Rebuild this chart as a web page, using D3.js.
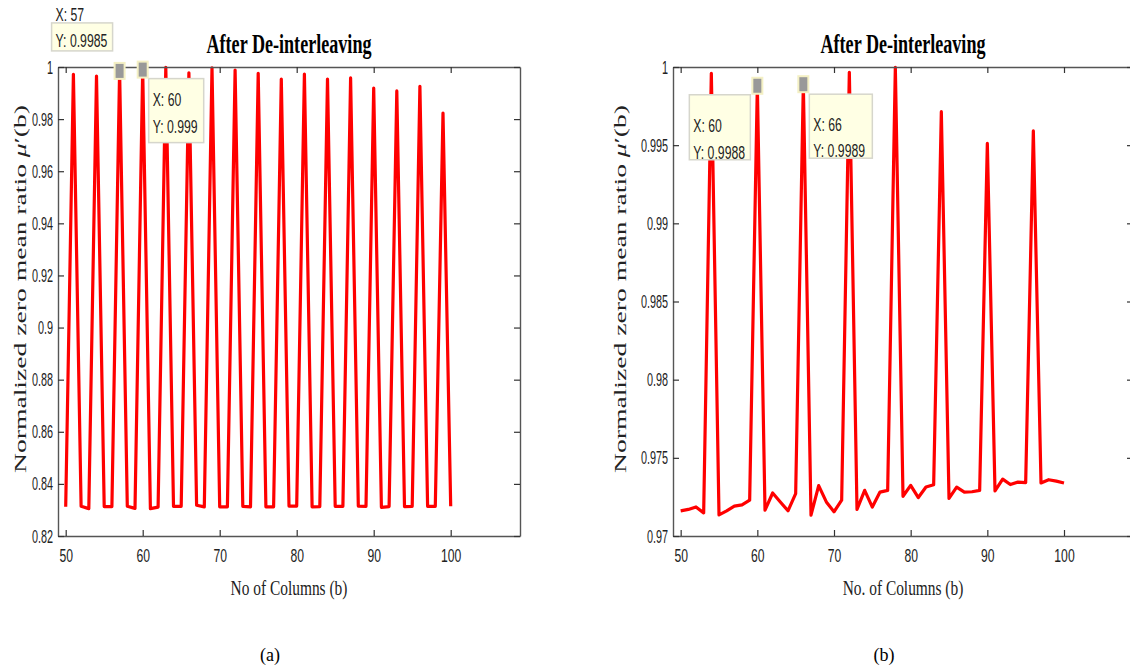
<!DOCTYPE html>
<html>
<head>
<meta charset="utf-8">
<script src="https://cdn.jsdelivr.net/npm/d3@7"></script>
<style>
  body { margin: 0; background: #fff; }
  svg { display: block; }
</style>
</head>
<body>
<svg id="fig" width="1130" height="667"></svg>
<script>
// ---- data ----
var colsA = [50,51,52,53,54,55,56,57,58,59,60,61,62,63,64,65,66,67,68,69,70,71,72,73,74,75,
             76,77,78,79,80,81,82,83,84,85,86,87,88,89,90,91,92,93,94,95,96,97,98,99,100];
var muA = [0.8312,0.9972,0.8314,0.8305,0.9965,0.8313,0.8313,0.9985,0.8314,0.8306,
           0.9990,0.8305,0.8311,0.9999,0.8314,0.8314,0.9978,0.8318,0.8312,0.9997,
           0.8312,0.8312,0.9988,0.8314,0.8312,0.9976,0.8312,0.8312,0.9954,0.8315,
           0.8315,0.9973,0.8312,0.8313,0.9954,0.8314,0.8314,0.9958,0.8315,0.8314,
           0.9919,0.8310,0.8313,0.9908,0.8313,0.8314,0.9926,0.8314,0.8314,0.9823,0.8314];

var colsB = [50,51,52,53,54,55,56,57,58,59,60,61,62,63,64,65,66,67,68,69,70,71,72,73,74,75,
             76,77,78,79,80,81,82,83,84,85,86,87,88,89,90,91,92,93,94,95,96,97,98,99,100];
var muB = [0.97161,0.97170,0.97186,0.97148,0.99960,0.97135,0.97161,0.97191,0.97199,0.97229,
           0.99880,0.97165,0.97275,0.97218,0.97161,0.97271,0.99890,0.97133,0.97322,0.97218,
           0.97155,0.97229,0.99966,0.97170,0.97292,0.97185,0.97281,0.97292,0.99998,0.97254,
           0.97324,0.97246,0.97313,0.97328,0.99714,0.97240,0.97313,0.97281,0.97283,0.97292,
           0.99511,0.97288,0.97364,0.97329,0.97345,0.97341,0.99591,0.97339,0.97360,0.97351,0.97339];

var xTicks = [50,60,70,80,90,100];
var yTicksA = [0.82,0.84,0.86,0.88,0.9,0.92,0.94,0.96,0.98,1];
var yTicksB = [0.97,0.975,0.98,0.985,0.99,0.995,1];

var tipColsA = [57,60], tipMuA = [0.9985,0.999];
var tipColsB = [60,66], tipMuB = [0.9988,0.9989];

var title = 'After De-interleaving';
var xLabelA = 'No of Columns (b)', xLabelB = 'No. of Columns (b)';

// ---- drawing ----
var svg = d3.select('#fig');
var SQ = 0.68;  // the figure's text is squeezed horizontally

function squeeze(sel, k) {
	sel.each(function() {
		var len = this.getComputedTextLength();
		d3.select(this).attr('textLength', len * k).attr('lengthAdjust', 'spacingAndGlyphs');
	});
}

function fmt(d) { return String(+d.toFixed(3)); }

function panel(o) {
	var g = svg.append('g');
	var x = d3.scaleLinear().domain([49,109]).range([o.left, o.right]);
	var y = d3.scaleLinear().domain(o.yDomain).range([536, 67]);

	var line = d3.line().x(d => x(d[0])).y(d => y(d[1]));
	g.append('path').datum(o.cols.map((c,i) => [c, o.mu[i]]))
		.attr('d', line)
		.attr('fill', 'none')
		.attr('stroke', '#ff0000')
		.attr('stroke-width', 3.2)
		.attr('stroke-linejoin', 'round');

	var ax = function(a) {
		a.selectAll('path').attr('stroke', '#555').attr('stroke-width', 1.4);
		a.selectAll('line').attr('stroke', '#333').attr('stroke-width', 1.2);
		a.selectAll('text').attr('fill', '#222')
			.style('font-family', '"Liberation Sans", Arial, sans-serif').style('font-size', '19px');
	};

	var xb = g.append('g').attr('transform', 'translate(0,536)')
		.call(d3.axisBottom(x).tickValues(xTicks).tickSizeInner(-6).tickSizeOuter(0).tickPadding(13))
		.call(ax);
	g.append('g').attr('transform', 'translate(0,67)')
		.call(d3.axisTop(x).tickValues(xTicks).tickSizeInner(-6).tickSizeOuter(0).tickFormat(''))
		.call(ax);
	var yl0 = g.append('g').attr('transform', 'translate(' + o.left + ',0)')
		.call(d3.axisLeft(y).tickValues(o.yTicks).tickSizeInner(-6).tickSizeOuter(0).tickPadding(5).tickFormat(fmt))
		.call(ax);
	g.append('g').attr('transform', 'translate(' + o.right + ',0)')
		.call(d3.axisRight(y).tickValues(o.yTicks).tickSizeInner(-6).tickSizeOuter(0).tickFormat(''))
		.call(ax);
	xb.selectAll('.tick text').call(squeeze, 0.64);
	yl0.selectAll('.tick text').call(squeeze, 0.57);

	var cx = (o.left + o.right) / 2;

	g.append('text').attr('x', cx).attr('y', 53)
		.attr('text-anchor', 'middle')
		.style('font-family', '"Liberation Serif", "Times New Roman", serif')
		.style('font-weight', 'bold').style('font-size', '27px')
		.attr('textLength', 165).attr('lengthAdjust', 'spacingAndGlyphs')
		.text(title);

	g.append('text').attr('x', cx).attr('y', 595)
		.attr('text-anchor', 'middle')
		.style('font-family', '"Liberation Serif", "Times New Roman", serif')
		.style('font-size', '22px').attr('fill', '#222')
		.text(o.xLabel).call(squeeze, 0.7);

	var yl = g.append('text')
		.attr('transform', 'translate(' + o.yLabelX + ',289) rotate(-90) scale(1,' + SQ + ')')
		.attr('text-anchor', 'middle')
		.style('font-family', '"Liberation Serif", "Times New Roman", serif')
		.style('font-size', '25px').attr('fill', '#222')
		.attr('textLength', 368).attr('lengthAdjust', 'spacingAndGlyphs');
	yl.append('tspan').text('Normalized zero mean ratio ');
	yl.append('tspan').style('font-style', 'italic').text('\u03bc');
	yl.append('tspan').text('\u2032(b)');

	g.append('text').attr('x', o.capX).attr('y', 661)
		.attr('text-anchor', 'middle')
		.style('font-family', '"Liberation Serif", "Times New Roman", serif')
		.style('font-size', '18px')
		.text(o.caption);

	// data tips
	o.tipCols.forEach(function(c, i) {
		var px = x(c), py = y(o.tipMu[i]);
		var b = o.tipBoxes[i];
		var tg = g.append('g');
		tg.append('rect').attr('x', px + b.dx).attr('y', py + b.dy)
			.attr('width', b.w).attr('height', b.h)
			.attr('fill', '#ffffe4').attr('stroke', '#d6d6cc').attr('stroke-width', 1.5);
		var tx = tg.append('g').attr('fill', '#222')
			.style('font-family', '"Liberation Sans", Arial, sans-serif').style('font-size', '18px');
		tx.append('text').attr('x', px + b.dx + 4).attr('y', py + b.dy + b.tyX).text('X: ' + c);
		tx.append('text').attr('x', px + b.dx + 4).attr('y', py + b.dy + b.tyY).text('Y: ' + o.tipMu[i]);
		tx.selectAll('text').call(squeeze, SQ);
		tg.append('rect').attr('x', px - 5).attr('y', py - 8).attr('width', 10).attr('height', 16)
			.attr('fill', '#999').attr('stroke', '#f4f0c4').attr('stroke-width', 2);
	});
}

svg.append('rect').attr('width', 1130).attr('height', 667).attr('fill', '#fff');

panel({
	left: 58, right: 520, yDomain: [0.82, 1], yTicks: yTicksA,
	cols: colsA, mu: muA, xLabel: xLabelA, caption: '(a)', capX: 270, yLabelX: 26,
	tipCols: tipColsA, tipMu: tipMuA,
	tipBoxes: [
		{dx: -68, dy: -48, w: 61, h: 28, tyX: -2, tyY: 24},
		{dx: 6, dy: 9, w: 55, h: 64, tyX: 27, tyY: 54}
	]
});

panel({
	left: 673, right: 1133, yDomain: [0.97, 1], yTicks: yTicksB,
	cols: colsB, mu: muB, xLabel: xLabelB, caption: '(b)', capX: 884, yLabelX: 626,
	tipCols: tipColsB, tipMu: tipMuB,
	tipBoxes: [
		{dx: -68, dy: 9, w: 61, h: 65, tyX: 37, tyY: 64},
		{dx: 6, dy: 10, w: 63, h: 64, tyX: 37, tyY: 63}
	]
});
</script>
</body>
</html>
